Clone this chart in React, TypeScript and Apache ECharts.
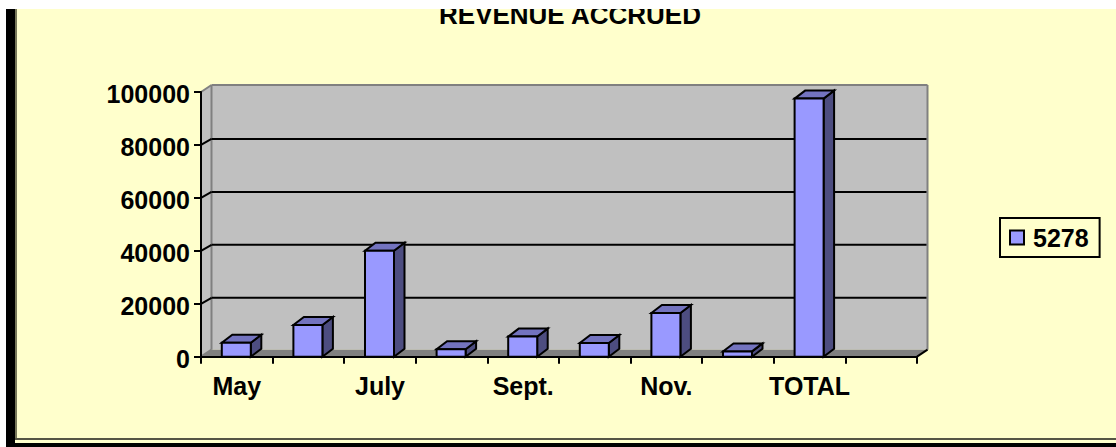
import React, { useEffect, useRef } from "react";
import * as echarts from "echarts";

const categories = ["May", "June", "July", "Aug.", "Sept.", "Oct.", "Nov.", "Dec.", "TOTAL", ""];
const values = [5300, 12000, 40000, 2800, 7600, 5200, 16500, 2000, 97500, 0];
const yTicks = [0, 20000, 40000, 60000, 80000, 100000];
const seriesName = "5278";
const titleText = "REVENUE ACCRUED";

const FONT = "'Liberation Sans', Arial, sans-serif";
const DX = 10.5;
const DY = -8;
const WALL_DY = -7;
const GRID_DY = -6;
const BAR_W = 29;
const line = (x1: number, y1: number, x2: number, y2: number, stroke: string, lineWidth: number) => ({
  type: "line",
  shape: { x1, y1, x2, y2 },
  style: { stroke, lineWidth, fill: "none" },
});
const poly = (points: number[][], fill: string, stroke: string, lineWidth: number) => ({
  type: "polygon",
  shape: { points },
  style: { fill, stroke, lineWidth, lineJoin: "miter" },
});

export default function App() {
  const ref = useRef<HTMLDivElement>(null);
  useEffect(() => {
    const chart = echarts.init(ref.current!, undefined, { renderer: "svg" });
    const W = 1110;
    const H = 438;
    chart.setOption({
      animation: false,
      backgroundColor: "#ffffcc",
      title: {
        text: titleText,
        left: 564,
        top: -7,
        textAlign: "center",
        padding: 0,
        textStyle: { fontFamily: FONT, fontWeight: "bold", fontSize: 26, color: "#000" },
      },
      legend: {
        left: 994,
        top: 209,
        orient: "vertical",
        data: [seriesName],
        icon: "rect",
        itemWidth: 14,
        itemHeight: 14,
        itemGap: 0,
        padding: [7, 11, 7, 9],
        borderColor: "#000",
        borderWidth: 2,
        backgroundColor: "transparent",
        selectedMode: false,
        itemStyle: { borderColor: "#000", borderWidth: 2 },
        textStyle: { fontFamily: FONT, fontWeight: "bold", fontSize: 25, color: "#000", padding: [0, 0, 0, 4] },
      },
      grid: { left: 195, top: 83, width: 716, height: 264.7, containLabel: false },
      xAxis: {
        type: "category",
        data: categories,
        boundaryGap: true,
        z: 5,
        axisLine: { lineStyle: { color: "#000", width: 2 } },
        axisTick: { show: true, length: 7, interval: 0, lineStyle: { color: "#000", width: 2 } },
        axisLabel: {
          interval: 1,
          margin: 17,
          fontFamily: FONT,
          fontWeight: "bold",
          fontSize: 25,
          color: "#000",
          hideOverlap: false,
        },
        splitLine: { show: false },
      },
      yAxis: {
        type: "value",
        min: 0,
        max: 100000,
        interval: 20000,
        z: 5,
        axisLine: { show: true, lineStyle: { color: "#000", width: 2 } },
        axisTick: { show: true, length: 7, lineStyle: { color: "#000", width: 2 } },
        axisLabel: {
          margin: 11,
          color: "#000",
          formatter: (v: number) => `{a|${v}}`,
          rich: {
            a: { fontFamily: FONT, fontWeight: "bold", fontSize: 25, color: "#000", padding: [4, 0, 0, 0] },
          },
        },
        splitLine: { show: false },
      },
      graphic: [
        { type: "rect", z: -10, shape: { x: 0, y: 0, width: 9, height: H }, style: { fill: "#000" } },
        { type: "rect", z: -10, shape: { x: 9, y: 0, width: 2, height: 431 }, style: { fill: "#77775a" } },
        { type: "rect", z: -10, shape: { x: 9, y: 429, width: W, height: 2 }, style: { fill: "#555544" } },
        { type: "rect", z: -10, shape: { x: 0, y: 434, width: W, height: 4 }, style: { fill: "#000" } },
      ],
      series: [
        {
          type: "custom",
          name: "walls",
          z: 1,
          silent: true,
          clip: false,
          data: [0],
          renderItem: (_p: any, api: any) => {
            const [x0, y0] = api.coord([0, 0]);
            const band = api.size([1, 0])[0];
            const left = x0 - band / 2;
            const right = left + band * categories.length;
            const top = api.coord([0, 100000])[1];
            const children: any[] = [
              poly([[left, y0], [left + DX, y0 + WALL_DY], [left + DX, top + WALL_DY], [left, top]], "#c0c0c0", "none", 0),
              poly([[left + DX, y0 + WALL_DY], [right + DX, y0 + WALL_DY], [right + DX, top + WALL_DY], [left + DX, top + WALL_DY]], "#c0c0c0", "none", 0),
              poly([[left, y0], [right, y0], [right + DX, y0 + WALL_DY], [left + DX, y0 + WALL_DY]], "#808080", "none", 0),
              line(left, top, left + DX, top + WALL_DY, "#808080", 2),
              line(left + DX, top + WALL_DY, right + DX, top + WALL_DY, "#808080", 2),
              line(right + DX, top + WALL_DY, right + DX, y0 + WALL_DY, "#808080", 2),
              line(left + DX, top + WALL_DY, left + DX, y0 + WALL_DY, "#808080", 2),
              line(right, y0, right + DX, y0 + WALL_DY, "#000", 2),
              line(left, y0, left + DX, y0 + WALL_DY, "#808080", 2),
            ];
            yTicks.slice(1, -1).forEach((t) => {
              const y = api.coord([0, t])[1];
              children.push(line(left, y, left + DX, y + GRID_DY, "#000", 2));
              children.push(line(left + DX, y + GRID_DY, right + DX - 1, y + GRID_DY, "#000", 2));
            });
            return { type: "group", children };
          },
        },
        {
          type: "custom",
          name: seriesName,
          z: 3,
          clip: false,
          silent: true,
          itemStyle: { color: "#9999ff" },
          data: values.map((v, i) => [i, v]),
          renderItem: (_p: any, api: any) => {
            const v = api.value(1);
            if (!v) return { type: "group", children: [] };
            const [cx, yt] = api.coord([api.value(0), v]);
            const yb = api.coord([0, 0])[1];
            const l = cx - BAR_W / 2 - 0.5;
            const r = l + BAR_W;
            return {
              type: "group",
              children: [
                poly([[r, yb], [r + DX, yb + DY], [r + DX, yt + DY], [r, yt]], "#4d4d80", "#000", 2),
                poly([[l, yt], [r, yt], [r + DX, yt + DY], [l + DX, yt + DY]], "#7373bf", "#000", 2),
                poly([[l, yb], [r, yb], [r, yt], [l, yt]], "#9999ff", "#000", 2),
              ],
            };
          },
        },
      ],
    });
    return () => chart.dispose();
  }, []);
  return (
    <div style={{ position: "fixed", inset: 0, background: "#fff", overflow: "hidden" }}>
      <div ref={ref} style={{ position: "absolute", left: 6, top: 9, width: 1110, height: 438 }} />
    </div>
  );
}
